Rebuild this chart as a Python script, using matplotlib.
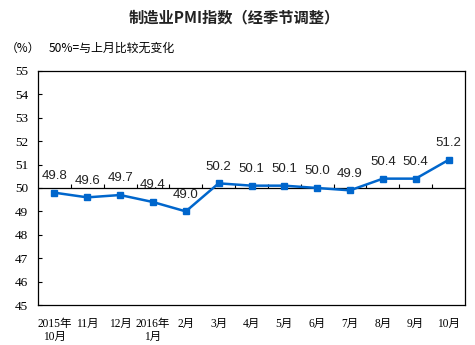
import numpy as np
import matplotlib
matplotlib.use("Agg")
import matplotlib.pyplot as plt

months = ["2015年\n10月", "11月", "12月", "2016年\n1月", "2月", "3月", "4月",
          "5月", "6月", "7月", "8月", "9月", "10月"]
pmi = [49.8, 49.6, 49.7, 49.4, 49.0, 50.2, 50.1, 50.1, 50.0, 49.9, 50.4, 50.4, 51.2]
yticks = [45, 46, 47, 48, 49, 50, 51, 52, 53, 54, 55]

cjk = ["Noto Sans CJK SC", "DejaVu Sans"]
serif_cjk = ["Liberation Serif", "Noto Sans CJK SC"]
sans = ["Liberation Sans", "DejaVu Sans"]
blue = "#0066cc"

fig = plt.figure(figsize=(4.75, 3.45), dpi=100)
ax = fig.add_axes([38 / 475, 40 / 345, 427 / 475, 234 / 345])

x = np.arange(len(pmi))
ax.plot(x, pmi, color=blue, lw=1.8, marker="s", ms=4.5, zorder=3)
for xi, v in zip(x, pmi):
    ax.annotate(f"{v:.1f}", (xi, v), xytext=(0, 12), textcoords="offset points",
                ha="center", va="center", fontsize=9.5, family=sans, color="#222222")

ax.set_xlim(-0.5, len(pmi) - 0.5)
ax.set_ylim(45, 55)

# 50 reference line with category boundary ticks
ax.axhline(50, color="black", lw=0.9, zorder=2)
bounds = np.arange(0.5, len(pmi) - 0.5, 1.0)
ax.vlines(bounds, 50, 50.17, color="black", lw=0.8, zorder=2)

ax.set_yticks(yticks)
ax.set_yticklabels([str(t) for t in yticks], family=serif_cjk, fontsize=9.5)
ax.tick_params(axis="y", direction="in", length=3, width=0.8, pad=7)

ax.set_xticks(x)
ax.set_xticklabels(months, family=serif_cjk, fontsize=8.3, linespacing=1.2, va="top")
ax.tick_params(axis="x", length=0, pad=9)

for s in ax.spines.values():
    s.set_linewidth(0.9)

fig.text(234 / 475, 1 - 17 / 345, "制造业PMI指数（经季节调整）", ha="center", va="center",
         family=cjk, fontsize=11, fontweight="bold", color="#222222")
fig.text(6 / 475, 1 - 48 / 345, "（%）", ha="left", va="center", family=cjk, fontsize=8.5)
fig.text(49 / 475, 1 - 48 / 345, "50%=与上月比较无变化", ha="left", va="center",
         family=cjk, fontsize=8.6)

fig.savefig("out.png", dpi=100)
